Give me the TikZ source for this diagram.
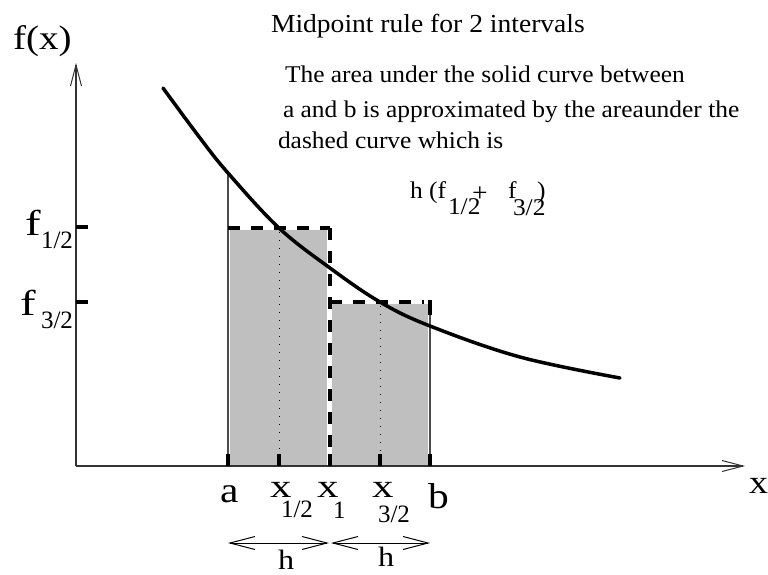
\documentclass[tikz,border=0pt]{standalone}
\usepackage{fontspec}
\setmainfont{Liberation Serif}
\newfontfamily\bodyfont[FakeStretch=1.06]{Liberation Serif}
\newfontfamily\lblfont[FakeStretch=1.15]{Liberation Serif}
\newfontfamily\ffont[FakeStretch=1.3]{Liberation Serif}
\usetikzlibrary{arrows.meta}
\newcommand{\fs}[1]{\fontsize{#1}{#1}\selectfont}
\tikzset{
  lbl/.style={anchor=base west, inner sep=0pt, outer sep=0pt},
  axisline/.style={line width=1.1pt, draw=black!80, -{Straight Barb[length=21pt, width=11pt, line width=1pt]}},
  thinline/.style={line width=1.2pt, draw=black!70},
  tickmark/.style={line width=4pt},
  dashline/.style={line width=3.5pt, dash pattern=on 12pt off 11pt},
  dotline/.style={line width=1pt, dash pattern=on 1pt off 7pt},
  bar/.style={fill=black!25, draw=none},
  hspan/.style={line width=1pt, {Straight Barb[length=25pt, width=13pt, line width=1pt]}-{Straight Barb[length=25pt, width=13pt, line width=1pt]}},
}
\begin{document}
\begin{tikzpicture}[x=1pt, y=-1pt]
\useasboundingbox (0,0) rectangle (768,574);
% named coordinates
\coordinate (O) at (76,466);
\coordinate (Ytip) at (76,63);
\coordinate (Xtip) at (745,466);
% shaded bars
\fill[bar] (230,230) rectangle (327,466);
\fill[bar] (332,304) rectangle (428,466);
% thin edges
\draw[thinline] (228,173) -- (228,466);
\draw[thinline] (430,314) -- (430,466);
% dotted midpoints
\draw[dotline] (279,232) -- (279,462);
\draw[dotline] (380,306) -- (380,462);
% dashed step
\draw[dashline] (228,228) -- (330,228);
\draw[dashline] (330,228) -- (330,466);
\draw[dashline] (330,302) -- (424,302);
\draw[line width=3.5pt] (430,300.25) -- (430,315);
% axes
\draw[axisline] (O) -- (Ytip);
\draw[axisline] (O) -- (Xtip);
% ticks
\foreach \t in {228,279,330,380,430}{\draw[tickmark] (\t,454) -- (\t,466);}
\draw[tickmark] (76,227) -- (88,227);
\draw[tickmark] (76,302) -- (88,302);
% curve
\draw[line width=3.5pt, line cap=round] plot[smooth, tension=0.6] coordinates {(163,88) (200,138) (228,173) (279,228) (330,268) (380,302) (430,326) (520,357) (620,378)};
% h spans
\coordinate (h0) at (228,543);
\coordinate (h1) at (329,543);
\coordinate (h2) at (331,543);
\coordinate (h3) at (430,543);
\draw[hspan] (h0) -- (h1);
\draw[hspan] (h2) -- (h3);
% labels
\node[lbl] (fx) at (13,49) {\lblfont\fs{34}f(x)};
\node[lbl] (f1) at (25,235) {\ffont\fs{36}f};
\node[lbl] (f1s) at (41,248) {\fs{25}1/2};
\node[lbl] (f3) at (20,315) {\ffont\fs{36}f};
\node[lbl] (f3s) at (41,328) {\fs{25}3/2};
\node[lbl] (la) at (220,502) {\lblfont\fs{36}a};
\node[lbl] (lx1) at (270,497) {\ffont\fs{33}x};
\node[lbl] (lx1s) at (281,517) {\fs{25}1/2};
\node[lbl] (lx2) at (317,497) {\ffont\fs{33}x};
\node[lbl] (lx2s) at (333,518) {\fs{25}1};
\node[lbl] (lx3) at (372,497) {\ffont\fs{33}x};
\node[lbl] (lx3s) at (378,522) {\fs{25}3/2};
\node[lbl] (lb) at (428,508) {\lblfont\fs{36}b};
\node[lbl] (lxa) at (749,493) {\lblfont\fs{33}x};
\node[lbl] (lh1) at (278,569) {\lblfont\fs{28}h};
\node[lbl] (lh2) at (378,566) {\lblfont\fs{28}h};
% text
\node[lbl] (title) at (271,32) {\bodyfont\fs{26}Midpoint rule for 2 intervals};
\node[lbl] (t1) at (285,82) {\bodyfont\fs{24}The area under the solid curve between};
\node[lbl] (t2) at (283,117) {\bodyfont\fs{24}a and b is approximated by the areaunder the};
\node[lbl] (t3) at (278,148) {\bodyfont\fs{24}dashed curve which is};
\node[lbl] (e1) at (410,198) {\bodyfont\fs{24}h (f};
\node[lbl] (e2) at (448,214) {\bodyfont\fs{24}1/2};
\node[lbl] (e3) at (472,201) {\bodyfont\fs{26}+};
\node[lbl] (e4) at (508,198) {\bodyfont\fs{24}f};
\node[lbl] (e5) at (513,215) {\bodyfont\fs{24}3/2};
\node[lbl] (e6) at (537,198) {\bodyfont\fs{24})};
\end{tikzpicture}
\end{document}
